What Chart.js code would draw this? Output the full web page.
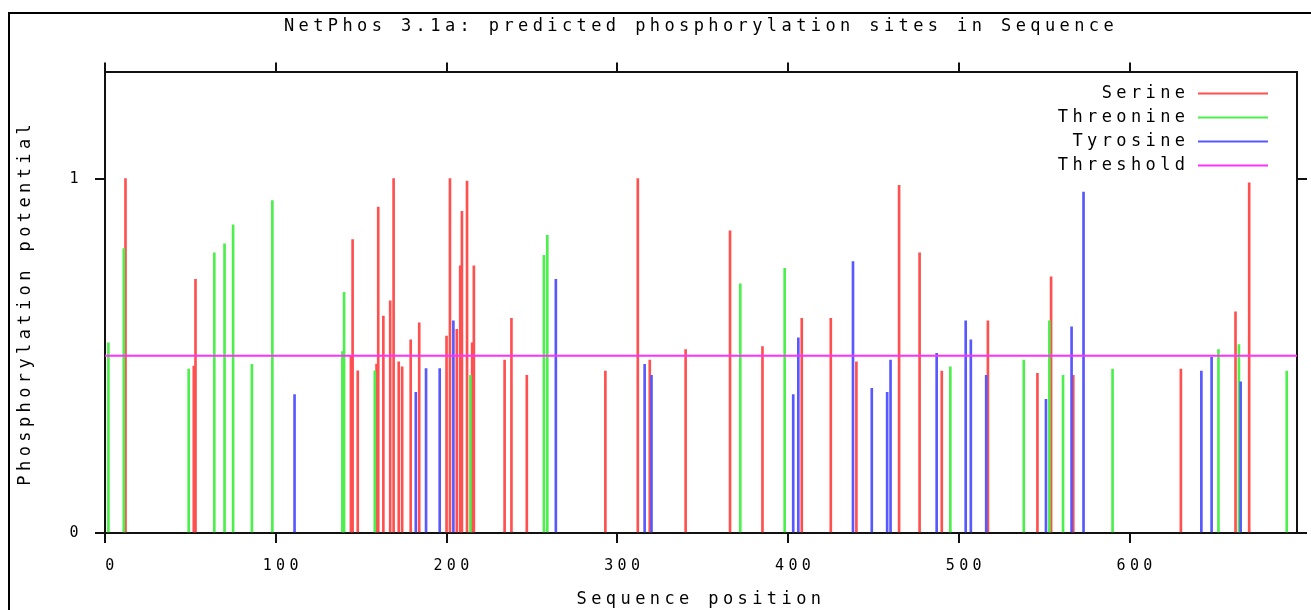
<!DOCTYPE html>
<html><head><meta charset="utf-8">
<script src="https://cdn.jsdelivr.net/npm/chart.js@4.4.1/dist/chart.umd.min.js"></script>
<style>
html,body{margin:0;padding:0;background:#fff;}
#wrap{position:relative;width:1311px;height:610px;overflow:hidden;background:#fff;}
#frame{position:absolute;left:8px;top:12px;width:1400px;height:700px;border-left:2px solid #000;border-top:2px solid #000;pointer-events:none;}
canvas{position:absolute;left:0;top:0;}
</style></head><body>
<div id="wrap"><canvas id="c" width="1311" height="610"></canvas><div id="frame"></div></div>
<script>
// ---- data ----
const chartTitle = 'NetPhos 3.1a: predicted phosphorylation sites in Sequence';
const xTitle = 'Sequence position';
const yTitle = 'Phosphorylation potential';
const seqLength = 698;
const yMax = 1.3;
const xTicks = [0, 100, 200, 300, 400, 500, 600];
const yTicks = [0, 1];
const threshold = 0.5;

const serinePos = [12, 52, 53, 144, 145, 148, 159, 160, 163, 167, 169, 172, 174, 179, 184, 200, 202, 206, 208, 209, 212, 215, 216, 234, 238, 247, 293, 312, 319, 340, 366, 385, 408, 425, 440, 465, 477, 490, 517, 546, 554, 567, 630, 662, 670];
const serineVal = [1.0, 0.471, 0.716, 0.50, 0.828, 0.458, 0.477, 0.920, 0.612, 0.655, 1.0, 0.483, 0.469, 0.545, 0.593, 0.556, 1.0, 0.575, 0.754, 0.908, 0.993, 0.537, 0.754, 0.488, 0.606, 0.445, 0.457, 1.0, 0.488, 0.518, 0.853, 0.526, 0.606, 0.606, 0.483, 0.981, 0.791, 0.457, 0.599, 0.451, 0.723, 0.445, 0.463, 0.624, 0.988];

const threoninePos = [2, 11, 49, 64, 70, 75, 86, 98, 139, 140, 158, 214, 257, 259, 372, 398, 495, 538, 553, 561, 590, 652, 664, 692];
const threonineVal = [0.537, 0.803, 0.463, 0.791, 0.816, 0.870, 0.476, 0.938, 0.512, 0.679, 0.458, 0.445, 0.784, 0.840, 0.703, 0.747, 0.469, 0.488, 0.599, 0.445, 0.463, 0.518, 0.532, 0.457];

const tyrosinePos = [111, 182, 188, 196, 204, 264, 316, 320, 403, 406, 438, 449, 458, 460, 487, 504, 507, 516, 551, 566, 573, 642, 648, 665];
const tyrosineVal = [0.391, 0.397, 0.464, 0.464, 0.599, 0.716, 0.476, 0.445, 0.391, 0.551, 0.766, 0.408, 0.397, 0.488, 0.507, 0.599, 0.545, 0.445, 0.377, 0.582, 0.962, 0.457, 0.496, 0.427];

// ---- styles ----
const FONT = "'DejaVu Sans Mono', 'Liberation Mono', monospace";
const colSer = '#ff5050', colThr = '#4cef4c', colTyr = '#5858ff', colThresh = '#ff30ff';
const AXIS = '#111';
const LS = '4.4px';

const pts = (p, v) => p.map((x, i) => ({x: x, y: v[i]}));

const spacing = {
  id: 'spacing',
  beforeUpdate(c){ c.ctx.letterSpacing = LS; },
  beforeLayout(c){ c.ctx.letterSpacing = LS; },
  beforeDraw(c){ c.ctx.letterSpacing = LS; },
  afterLayout(c){
    const lg = c.legend;
    if (!lg) return;
    const w = lg.width, h = lg.height;
    lg.left = 1275 - w; lg.right = lg.left + w;
    lg.top = 78; lg.bottom = lg.top + h;
  }
};

const barDs = (label, data, color, order) => ({
  type: 'bar', label, data, backgroundColor: color, borderColor: color,
  borderWidth: 0, barThickness: 2, grouped: false, order
});

const setTicks = (vals) => (s) => { s.ticks = vals.map(v => ({value: v})); };

new Chart(document.getElementById('c'), {
  type: 'bar',
  data: {
    datasets: [
      barDs('Serine', pts(serinePos, serineVal), colSer, 3),
      barDs('Threonine', pts(threoninePos, threonineVal), colThr, 2),
      barDs('Tyrosine', pts(tyrosinePos, tyrosineVal), colTyr, 1),
      { type: 'line', label: 'Threshold', data: [{x: 0, y: threshold}, {x: seqLength, y: threshold}],
        borderColor: colThresh, backgroundColor: colThresh, borderWidth: 2, pointRadius: 0, order: 0 }
    ]
  },
  options: {
    responsive: false,
    animation: false,
    events: [],
    layout: { padding: 0 },
    scales: {
      x: {
        type: 'linear', position: 'bottom', min: 0, max: seqLength, offset: false,
        afterBuildTicks: setTicks(xTicks),
        afterFit(s){ s.height = 77; },
        grid: { offset: false, drawOnChartArea: false, drawTicks: true, tickLength: 10, color: AXIS, lineWidth: 2 },
        border: { display: true, color: AXIS, width: 2 },
        ticks: { color: '#000', font: { family: FONT, size: 15 }, padding: 14, labelOffset: 7, maxRotation: 0, autoSkip: false,
                 callback: v => String(v) },
        title: { display: true, text: xTitle, color: '#000', font: { family: FONT, size: 17 }, padding: { top: 1, bottom: 0 } }
      },
      x2: {
        type: 'linear', position: 'top', min: 0, max: seqLength, offset: false,
        afterBuildTicks: setTicks(xTicks),
        afterFit(s){ s.height = 10; },
        grid: { offset: false, drawOnChartArea: false, drawTicks: true, tickLength: 10, color: AXIS, lineWidth: 2 },
        border: { display: true, color: AXIS, width: 2 },
        ticks: { display: false }
      },
      y: {
        type: 'linear', position: 'left', min: 0, max: yMax,
        afterBuildTicks: setTicks(yTicks),
        afterFit(s){ s.width = 105; },
        grid: { drawOnChartArea: false, drawTicks: true, tickLength: 10, color: AXIS, lineWidth: 2 },
        border: { display: true, color: AXIS, width: 2 },
        ticks: { color: '#000', font: { family: FONT, size: 15 }, padding: 12, callback: v => String(v) },
        title: { display: true, text: yTitle, color: '#000', font: { family: FONT, size: 17 }, padding: { top: 15, bottom: 0 } }
      },
      y2: {
        type: 'linear', position: 'right', min: 0, max: yMax,
        afterBuildTicks: setTicks(yTicks),
        afterFit(s){ s.width = 14; },
        grid: { drawOnChartArea: false, drawTicks: true, tickLength: 10, color: AXIS, lineWidth: 2 },
        border: { display: true, color: AXIS, width: 2 },
        ticks: { display: false }
      }
    },
    plugins: {
      title: { display: true, text: chartTitle, color: '#000', fullSize: false,
               font: { family: FONT, size: 17, weight: 'normal' }, padding: { top: 16, bottom: 26 } },
      legend: {
        display: true, position: 'chartArea', align: 'start', rtl: true,
        labels: {
          color: '#000', font: { family: FONT, size: 17 }, usePointStyle: true, pointStyle: 'line',
          pointStyleWidth: 70, padding: 7,
          sort: (a, b) => a.datasetIndex - b.datasetIndex,
          generateLabels(chart) {
            const items = Chart.defaults.plugins.legend.labels.generateLabels(chart);
            items.forEach(it => {
              const ds = chart.data.datasets[it.datasetIndex];
              it.strokeStyle = ds.borderColor; it.fillStyle = ds.borderColor; it.lineWidth = 2;
              it.pointStyle = 'line';
            });
            return items;
          }
        }
      },
      tooltip: { enabled: false }
    }
  },
  plugins: [spacing]
});
</script>
</body></html>
